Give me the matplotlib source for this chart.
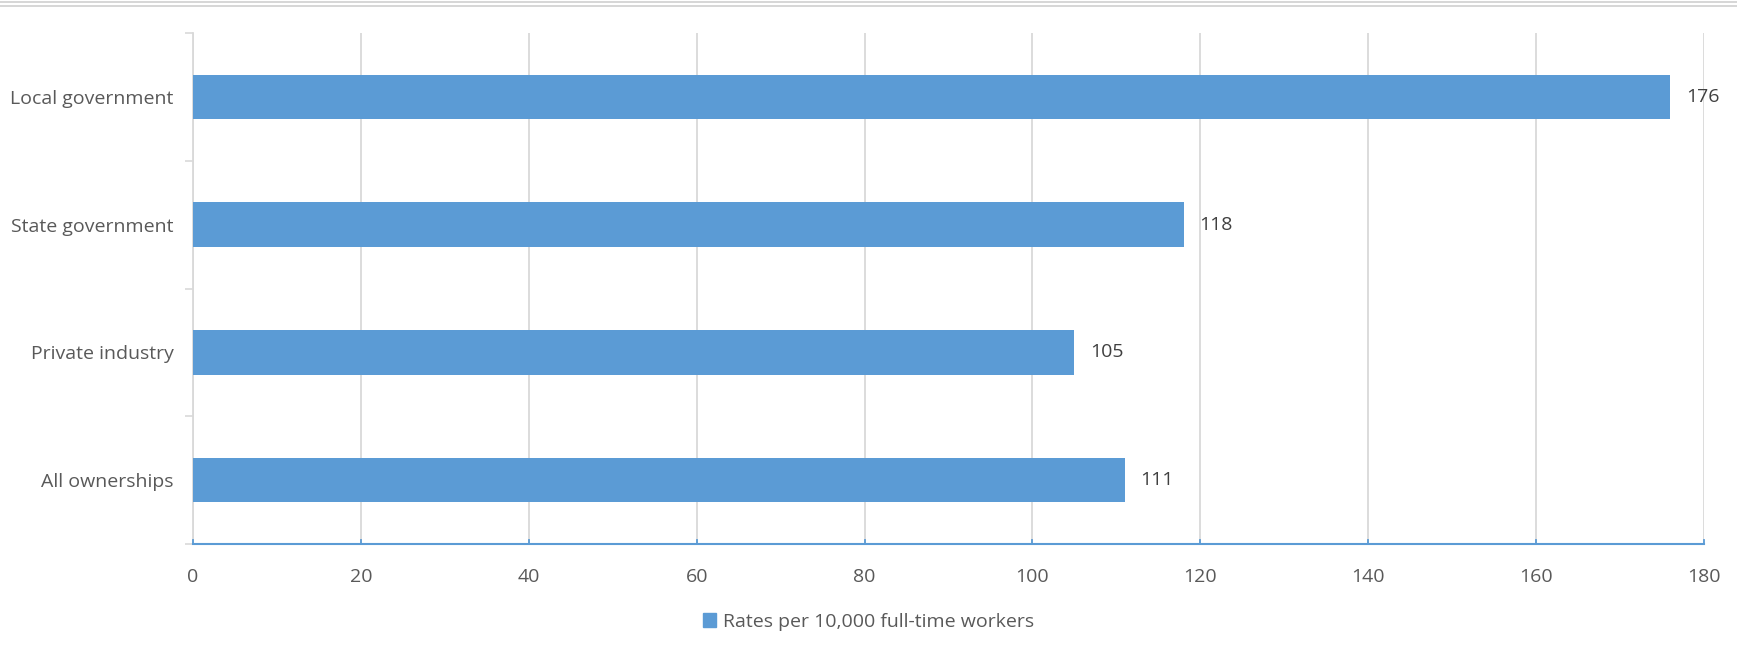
import matplotlib.pyplot as plt
from matplotlib.lines import Line2D
from matplotlib.patches import Patch

categories = ["All ownerships", "Private industry", "State government", "Local government"]
rates = [111, 105, 118, 176]
series_name = "Rates per 10,000 full-time workers"
xticks = [0, 20, 40, 60, 80, 100, 120, 140, 160, 180]

plt.rcParams['font.family'] = ['Open Sans', 'DejaVu Sans']
txt = '#595959'
blue = '#5B9BD5'
grid = '#D9D9D9'
fs = 14

W, H = 1737, 656
fig = plt.figure(figsize=(W / 100, H / 100), dpi=100)
# plot area in pixels: x 193..1704, y 33..544
ax = fig.add_axes([193 / W, 1 - 544 / H, (1704 - 193) / W, (544 - 33) / H])

ypos = list(range(len(categories)))
ax.barh(ypos, rates, height=0.35, color=blue, zorder=3)
for y, v in zip(ypos, rates):
    ax.annotate(str(v), (v, y), xytext=(11, 0), textcoords='offset points',
                va='center', ha='left', fontsize=fs, color='#404040')

ax.set_xlim(0, 180)
ax.set_ylim(-0.5, len(categories) - 0.5)
ax.set_xticks(xticks)
ax.set_xticklabels([str(t) for t in xticks], fontsize=fs, color=txt)
ax.tick_params(axis='x', length=0, pad=17)
ax.xaxis.grid(True, color=grid, linewidth=1.3, zorder=0)

ax.set_yticks(ypos)
ax.set_yticklabels(categories, fontsize=fs, color=txt)
ax.tick_params(axis='y', length=0, pad=14)
# category boundary ticks on the y axis
ax.set_yticks([i - 0.5 for i in range(len(categories) + 1)], minor=True)
ax.tick_params(axis='y', which='minor', length=6, color=grid, width=1.2, direction='out')

for s in ['top', 'right']:
    ax.spines[s].set_visible(False)
ax.spines['left'].set_color(grid)
ax.spines['left'].set_linewidth(1.3)
ax.spines['bottom'].set_color(blue)
ax.spines['bottom'].set_linewidth(1.5)

# small inward ticks on the value axis
for t in xticks:
    ax.plot([t, t], [-0.5, -0.5 + 0.03], color=blue, lw=1.3, clip_on=False, zorder=4)

# double rule at the very top
fig.add_artist(Line2D([0, 1], [1 - 2 / H, 1 - 2 / H], color='#D0D0D0', lw=1.2))
fig.add_artist(Line2D([0, 1], [1 - 5.5 / H, 1 - 5.5 / H], color='#D0D0D0', lw=1.2))

leg = fig.legend(handles=[Patch(color=blue, label=series_name)],
                 loc='center', bbox_to_anchor=(0.5, 1 - 622 / H), frameon=False,
                 fontsize=fs, handlelength=0.7, handleheight=0.7,
                 handletextpad=0.35, labelcolor=txt)

fig.savefig('out.png', dpi=100)
